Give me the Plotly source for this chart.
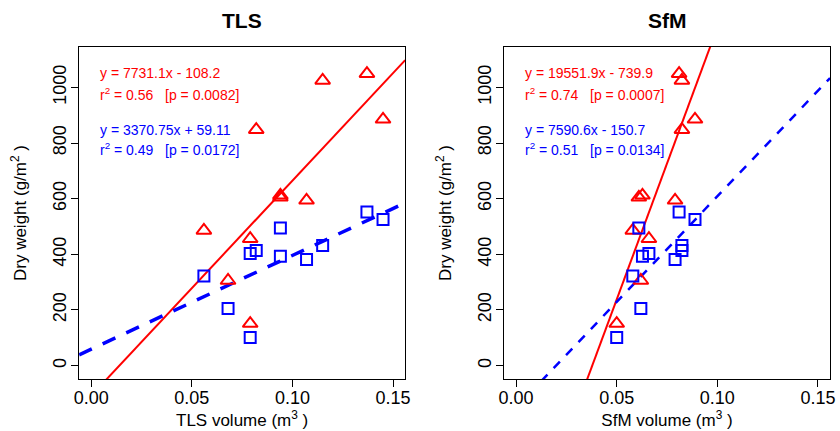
import numpy as np
import plotly.graph_objects as go

# Per-sample volumes (m^3) from the two sensing methods
tls_volume = [0.056, 0.068, 0.079, 0.079, 0.082, 0.094, 0.094, 0.107, 0.115, 0.137, 0.145]
sfm_volume = [0.058, 0.062, 0.050, 0.066, 0.0824, 0.061, 0.0628, 0.079, 0.0824, 0.081, 0.0889]

# Dry weights (g/m^2): red triangles and blue squares
dry_red = [486, 306, 151, 456, 848, 605, 612, 594, 1025, 1049, 885]
dry_blue = [322, 205, 101, 403, 414, 495, 393, 381, 432, 552, 525]

# Fitted regression lines (slope, intercept) and their statistics
fits = {
    "TLS": {"red": (7731.1, -108.2, "0.56", "0.0082"),
            "blue": (3370.75, 59.11, "0.49", "0.0172")},
    "SfM": {"red": (19551.9, -739.9, "0.74", "0.0007"),
            "blue": (7590.6, -150.7, "0.51", "0.0134")},
}

x_ticks = [0, 0.05, 0.10, 0.15]
x_tick_text = ["0.00", "0.05", "0.10", "0.15"]
y_ticks = [0, 200, 400, 600, 800, 1000]

X_RANGE = [-0.006, 0.156]
Y_RANGE = [-48, 1145]

RED = "#FF0000"
BLUE = "#0000FF"
FONT = "Liberation Sans, Arial, sans-serif"

W, H = 840, 431
panels = [
    ("TLS", tls_volume, "x", "y", [75 / W, 405 / W], 3.5, "14px,12px", 2.0),
    ("SfM", sfm_volume, "x2", "y2", [505 / W, 835 / W], 2.5, "9px,9px", 2.0),
]
y_domain = [(H - 379) / H, (H - 47) / H]

fig = go.Figure()
layout = dict(
    width=W, height=H,
    margin=dict(l=0, r=0, t=0, b=0),
    paper_bgcolor="white", plot_bgcolor="white",
    showlegend=False,
    font=dict(family=FONT, color="black"),
)
annotations = []

def fmt_eq(slope, intercept):
    sign = "+" if intercept >= 0 else "-"
    return f"y = {slope:g}x {sign} {abs(intercept):g}"

for i, (name, xv, xa, ya, xdom, blue_w, blue_dash, red_w) in enumerate(panels):
    suffix = "" if i == 0 else str(i + 1)
    xs = np.array(X_RANGE)

    # Regression lines across the whole axis span
    rs, ri, rr2, rp = fits[name]["red"]
    bs, bi, br2, bp = fits[name]["blue"]
    fig.add_trace(go.Scatter(x=xs, y=rs * xs + ri, mode="lines",
                             line=dict(color=RED, width=red_w),
                             xaxis=xa, yaxis=ya, hoverinfo="skip"))
    fig.add_trace(go.Scatter(x=xs, y=bs * xs + bi, mode="lines",
                             line=dict(color=BLUE, width=blue_w, dash=blue_dash),
                             xaxis=xa, yaxis=ya, hoverinfo="skip"))

    # Data points
    fig.add_trace(go.Scatter(x=xv, y=dry_red, mode="markers",
                             marker=dict(symbol="triangle-up-open", size=13,
                                         color=RED, line=dict(width=2, color=RED)),
                             xaxis=xa, yaxis=ya))
    fig.add_trace(go.Scatter(x=xv, y=dry_blue, mode="markers",
                             marker=dict(symbol="square-open", size=11,
                                         color=BLUE, line=dict(width=2, color=BLUE)),
                             xaxis=xa, yaxis=ya))

    axis_common = dict(showline=True, linecolor="black", linewidth=1, mirror=True,
                       showgrid=False, zeroline=False, ticks="outside",
                       ticklen=7, tickcolor="black", tickwidth=1,
                       tickfont=dict(size=18, family=FONT, color="black"))
    layout["xaxis" + suffix] = dict(
        axis_common, domain=xdom, range=X_RANGE, anchor=ya,
        tickvals=x_ticks, ticktext=x_tick_text, ticklabelstandoff=-5,
        title=dict(text=f"{name} volume (m<sup>3</sup> )", standoff=2,
                   font=dict(size=17, family=FONT, color="black")),
    )
    layout["yaxis" + suffix] = dict(
        axis_common, domain=y_domain, range=Y_RANGE, anchor=xa,
        tickvals=y_ticks, tickangle=-90, ticklabelstandoff=-2,
        title=dict(text="Dry weight (g/m<sup>2</sup> )", standoff=18,
                   font=dict(size=17, family=FONT, color="black")),
    )

    # Panel title
    annotations.append(dict(text=f"<b>{name}</b>", xref="paper", yref="paper",
                            x=(xdom[0] + xdom[1]) / 2, y=(H - 20) / H,
                            xanchor="center", yanchor="middle", showarrow=False,
                            font=dict(size=21, family=FONT, color="black")))

    # Regression equations and statistics
    gap = "\u00a0" * 3
    tx = 0.0035
    for text, yv, col in [
        (fmt_eq(rs, ri), 1051, RED),
        (f"r<sup>2</sup> = {rr2}{gap}[p = {rp}]", 975, RED),
        (fmt_eq(bs, bi), 848, BLUE),
        (f"r<sup>2</sup> = {br2}{gap}[p = {bp}]", 777, BLUE),
    ]:
        annotations.append(dict(text=text, xref=xa, yref=ya, x=tx, y=yv,
                                xanchor="left", yanchor="middle", showarrow=False,
                                font=dict(size=14, family=FONT, color=col)))

layout["annotations"] = annotations
fig.update_layout(**layout)
fig.write_html("out.html")
